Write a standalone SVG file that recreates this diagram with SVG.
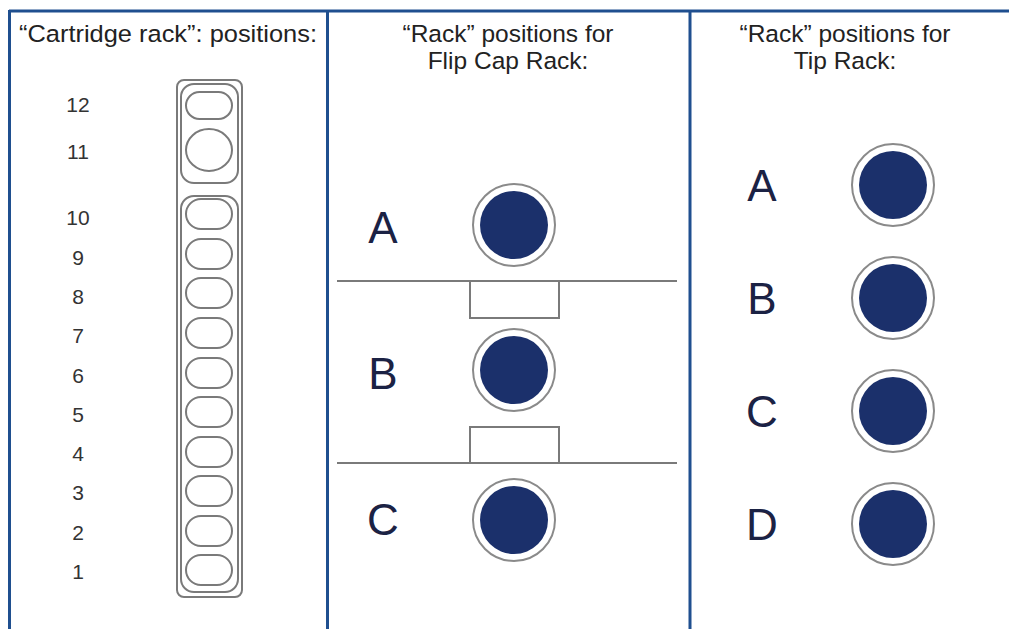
<svg xmlns="http://www.w3.org/2000/svg" width="1009" height="629" viewBox="0 0 1009 629">
<style>
.frame{stroke:#1f4f8f;stroke-width:3;fill:none}
.title{font-family:"Liberation Sans",Arial,sans-serif;font-size:24.5px;fill:#222;text-anchor:middle}
.num{font-family:"Liberation Sans",Arial,sans-serif;font-size:21px;fill:#333;text-anchor:middle}
.let{font-family:"Liberation Sans",Arial,sans-serif;font-size:44px;fill:#1b2244;text-anchor:middle}
.gray{fill:none;stroke:#7a7a7a;stroke-width:2}
.ring{fill:#fff;stroke:#8a8a8a;stroke-width:2}
.dot{fill:#1b306b}
</style>
<defs>
<g id="pos"><circle r="41" class="ring"/><circle r="34" class="dot"/></g>
</defs>
<rect width="1009" height="629" fill="#fff"/>
<g id="frame">
<line x1="9" y1="11" x2="1009" y2="11" class="frame"/>
<line x1="9.5" y1="10" x2="9.5" y2="629" class="frame"/>
<line x1="327.5" y1="10" x2="327.5" y2="629" class="frame"/>
<line x1="690" y1="10" x2="690" y2="629" class="frame"/>
</g>
<g id="cartridge-panel">
<text x="168" y="42" class="title" textLength="298" lengthAdjust="spacingAndGlyphs">“Cartridge rack”: positions:</text>
<g id="numbers">
<text x="78" y="112" class="num">12</text>
<text x="78" y="159" class="num">11</text>
<text x="78" y="225" class="num">10</text>
<text x="78" y="265" class="num">9</text>
<text x="78" y="304" class="num">8</text>
<text x="78" y="343" class="num">7</text>
<text x="78" y="383" class="num">6</text>
<text x="78" y="422" class="num">5</text>
<text x="78" y="461" class="num">4</text>
<text x="78" y="500" class="num">3</text>
<text x="78" y="540" class="num">2</text>
<text x="78" y="579" class="num">1</text>
</g>
<g id="cartridge">
<rect x="177" y="80" width="65" height="517" rx="7" class="gray"/>
<rect x="181" y="84" width="57" height="99" rx="13" class="gray"/>
<rect x="181" y="196" width="57" height="396" rx="13" class="gray"/>
<rect x="186" y="92" width="46" height="27" rx="13.5" class="gray"/>
<ellipse cx="209" cy="150" rx="23" ry="21" class="gray"/>
<rect x="186" y="199" width="46" height="30" rx="15" class="gray"/>
<rect x="186" y="239" width="46" height="30" rx="15" class="gray"/>
<rect x="186" y="278" width="46" height="30" rx="15" class="gray"/>
<rect x="186" y="318" width="46" height="30" rx="15" class="gray"/>
<rect x="186" y="358" width="46" height="30" rx="15" class="gray"/>
<rect x="186" y="397" width="46" height="30" rx="15" class="gray"/>
<rect x="186" y="437" width="46" height="30" rx="15" class="gray"/>
<rect x="186" y="476" width="46" height="30" rx="15" class="gray"/>
<rect x="186" y="516" width="46" height="30" rx="15" class="gray"/>
<rect x="186" y="555" width="46" height="30" rx="15" class="gray"/>
</g>
</g>
<g id="flipcap-panel">
<text x="508" y="42" class="title">“Rack” positions for</text>
<text x="508" y="69" class="title">Flip Cap Rack:</text>
<g id="fc-lines">
<line x1="337" y1="281" x2="677" y2="281" class="gray"/>
<rect x="470" y="281" width="89" height="37" class="gray"/>
<line x1="337" y1="463" x2="677" y2="463" class="gray"/>
<rect x="470" y="427" width="89" height="36" class="gray"/>
</g>
<g id="fc-A"><text x="383" y="243" class="let">A</text><use href="#pos" x="514" y="225"/></g>
<g id="fc-B"><text x="383" y="389" class="let">B</text><use href="#pos" x="514" y="370"/></g>
<g id="fc-C"><text x="383" y="535" class="let">C</text><use href="#pos" x="514" y="520"/></g>
</g>
<g id="tip-panel">
<text x="845" y="42" class="title">“Rack” positions for</text>
<text x="845" y="69" class="title">Tip Rack:</text>
<g id="tip-A"><text x="762" y="201" class="let">A</text><use href="#pos" x="893" y="185"/></g>
<g id="tip-B"><text x="762" y="314" class="let">B</text><use href="#pos" x="893" y="298"/></g>
<g id="tip-C"><text x="762" y="427" class="let">C</text><use href="#pos" x="893" y="411"/></g>
<g id="tip-D"><text x="762" y="540" class="let">D</text><use href="#pos" x="893" y="524"/></g>
</g>
</svg>
